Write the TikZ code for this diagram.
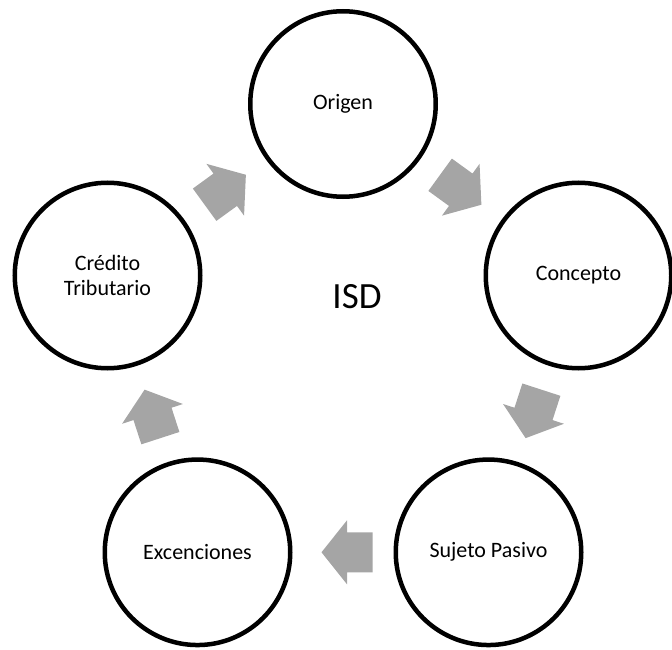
\documentclass[tikz,border=0pt]{standalone}
\usepackage{fontspec}
\setmainfont{Carlito}
\usetikzlibrary{calc}
\definecolor{arrowgray}{HTML}{A5A5A5}
\tikzset{
  stage/.style={circle, draw=black, line width=4.5pt, minimum size=185.5pt, inner sep=0pt, align=center, font=\fontsize{22}{24.5}\selectfont},
  blockarrow/.pic={\fill[arrowgray] (-25.5,-20) -- (0,-20) -- (0,-32) -- (25.5,0) -- (0,32) -- (0,20) -- (-25.5,20) -- cycle;}
}
\begin{document}
\begin{tikzpicture}[x=1pt,y=-1pt]
\useasboundingbox (0,0) rectangle (672,650);
\node[stage] (origen) at (343,104) {Origen};
\node[stage] (concepto) at (578.5,275.5) {Concepto};
\node[stage] (sujeto) at (488.5,552.3) {Sujeto Pasivo};
\node[stage] (excen) at (197.5,552.3) {Excenciones};
\node[stage] (credito) at (107.5,275.5) {Crédito\\Tributario};
\node[font=\fontsize{37}{44}\selectfont] (isd) at (357,297) {ISD};
\coordinate (m1) at ($(origen)!0.5!(concepto)$);
\coordinate (m2) at ($(concepto)!0.5!(sujeto)$);
\coordinate (m3) at ($(sujeto)!0.5!(excen)+(4,0)$);
\coordinate (m4) at ($(excen)!0.5!(credito)$);
\coordinate (m5) at ($(credito)!0.5!(origen)$);
\pic[rotate=-36] at (m1) {blockarrow};
\pic[rotate=-108] at (m2) {blockarrow};
\pic[rotate=180] at (m3) {blockarrow};
\pic[rotate=108] at (m4) {blockarrow};
\pic[rotate=36] at (m5) {blockarrow};
\end{tikzpicture}
\end{document}
